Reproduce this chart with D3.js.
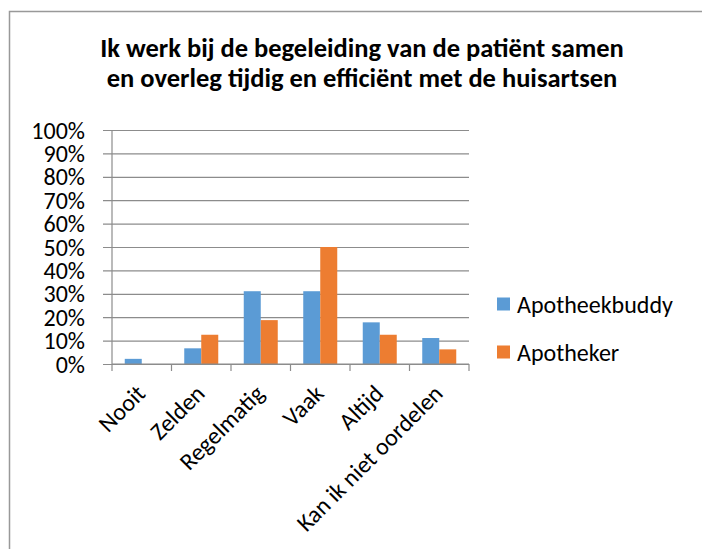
<!DOCTYPE html>
<html>
<head>
<meta charset="utf-8">
<script src="https://cdn.jsdelivr.net/npm/d3@7"></script>
<style>
  body { margin: 0; background: #fff; }
  svg text { font-family: Carlito, Calibri, Lato, sans-serif; fill: #000; }
</style>
</head>
<body>
<div class="chart"></div>
<script>
// data
const categories = ['Nooit', 'Zelden', 'Regelmatig', 'Vaak', 'Altijd', 'Kan ik niet oordelen'];
const seriesNames = ['Apotheekbuddy', 'Apotheker'];
const apotheekbuddy = [2.2, 6.7, 31.1, 31.1, 17.8, 11.1];
const apotheker = [0, 12.5, 18.75, 50, 12.5, 6.25];
const yTicks = [0, 10, 20, 30, 40, 50, 60, 70, 80, 90, 100];
const colors = ['#5B9BD5', '#ED7D31'];
const titleLines = ['Ik werk bij de begeleiding van de patiënt samen',
	'en overleg tijdig en efficiënt met de huisartsen'];

const margin = { top: 130, right: 233, bottom: 185, left: 112 };
const width = 702 - margin.left - margin.right;
const height = 549 - margin.top - margin.bottom;

const svg = d3.select('.chart')
	.append('svg')
		.attr('width', 702)
		.attr('height', 549);

// outer chart border (runs off the right and bottom edge)
svg.append('path')
	.attr('d', 'M9.5,549 V11.5 H702')
	.attr('fill', 'none')
	.attr('stroke', '#999')
	.attr('stroke-width', 1.5);

// title
svg.append('text')
	.attr('x', 362)
	.attr('y', 57)
	.attr('text-anchor', 'middle')
	.style('font-weight', 'bold')
	.style('font-size', '26.5px')
	.selectAll('tspan')
	.data(titleLines)
	.enter()
	.append('tspan')
		.attr('x', 362)
		.attr('dy', (d, i) => i === 0 ? 0 : 30)
		.text(d => d);

const g = svg.append('g')
	.attr('transform', `translate(${margin.left}, ${margin.top})`);

const yScale = d3.scaleLinear()
	.domain([0, 100])
	.range([height, 0]);

const xScale = d3.scaleBand()
	.domain(categories)
	.range([0, width]);

const barW = 17;
const xSub = d3.scaleBand()
	.domain(seriesNames)
	.range([xScale.bandwidth() / 2 - barW, xScale.bandwidth() / 2 + barW]);

// gridlines + left ticks
const yAxis = d3.axisLeft(yScale)
	.tickValues(yTicks)
	.tickSize(-width - 9)
	.tickFormat('');
g.append('g')
	.attr('transform', `translate(${-9}, 0)`)
	.call(yAxis)
	.call(s => s.select('.domain').remove())
	.call(s => s.selectAll('.tick line').attr('stroke', '#8c8c8c').attr('stroke-width', 1.2));

// vertical axis line
g.append('line')
	.attr('x1', 0).attr('x2', 0)
	.attr('y1', 0).attr('y2', height)
	.attr('stroke', '#8c8c8c')
	.attr('stroke-width', 1.2);

// y labels
g.selectAll('.ylab')
	.data(yTicks)
	.enter()
	.append('text')
		.attr('class', 'ylab')
		.attr('x', -27)
		.attr('y', d => yScale(d))
		.attr('dy', '0.36em')
		.attr('text-anchor', 'end')
		.style('font-size', '24px')
		.text(d => d + '%');

// bars
const table = categories.map((c, i) => ({ cat: c, values: [apotheekbuddy[i], apotheker[i]] }));
const groups = g.selectAll('.grp')
	.data(table)
	.enter()
	.append('g')
		.attr('class', 'grp')
		.attr('transform', d => `translate(${xScale(d.cat)}, 0)`);

groups.selectAll('rect')
	.data(d => d.values.map((v, j) => ({ name: seriesNames[j], v: v, j: j })))
	.enter()
	.append('rect')
		.attr('x', d => xSub(d.name))
		.attr('width', xSub.bandwidth())
		.attr('y', d => yScale(d.v))
		.attr('height', d => height - yScale(d.v))
		.attr('fill', d => colors[d.j]);

// bottom axis with ticks at category borders
const bounds = categories.map(c => xScale(c)).concat([width]);
g.append('line')
	.attr('x1', 0).attr('x2', width)
	.attr('y1', height).attr('y2', height)
	.attr('stroke', '#8c8c8c')
	.attr('stroke-width', 1.2);
g.selectAll('.xtick')
	.data(bounds)
	.enter()
	.append('line')
		.attr('class', 'xtick')
		.attr('x1', d => d).attr('x2', d => d)
		.attr('y1', height).attr('y2', height + 7)
		.attr('stroke', '#8c8c8c')
		.attr('stroke-width', 1.2);

// rotated category labels
g.selectAll('.xlab')
	.data(categories)
	.enter()
	.append('text')
		.attr('class', 'xlab')
		.attr('text-anchor', 'end')
		.style('font-size', '24px')
		.attr('transform', d => `translate(${xScale(d) + xScale.bandwidth() / 2 + 5}, ${height + 31}) rotate(-45)`)
		.text(d => d);

// legend
const legend = svg.selectAll('.legend')
	.data(seriesNames)
	.enter()
	.append('g')
		.attr('class', 'legend')
		.attr('transform', (d, i) => `translate(497, ${304 + i * 48})`);
legend.append('rect')
	.attr('x', 0).attr('y', -6.5)
	.attr('width', 13).attr('height', 13)
	.attr('fill', (d, i) => colors[i]);
legend.append('text')
	.attr('x', 20)
	.attr('dy', '0.36em')
	.style('font-size', '24px')
	.text(d => d);
</script>
</body>
</html>
